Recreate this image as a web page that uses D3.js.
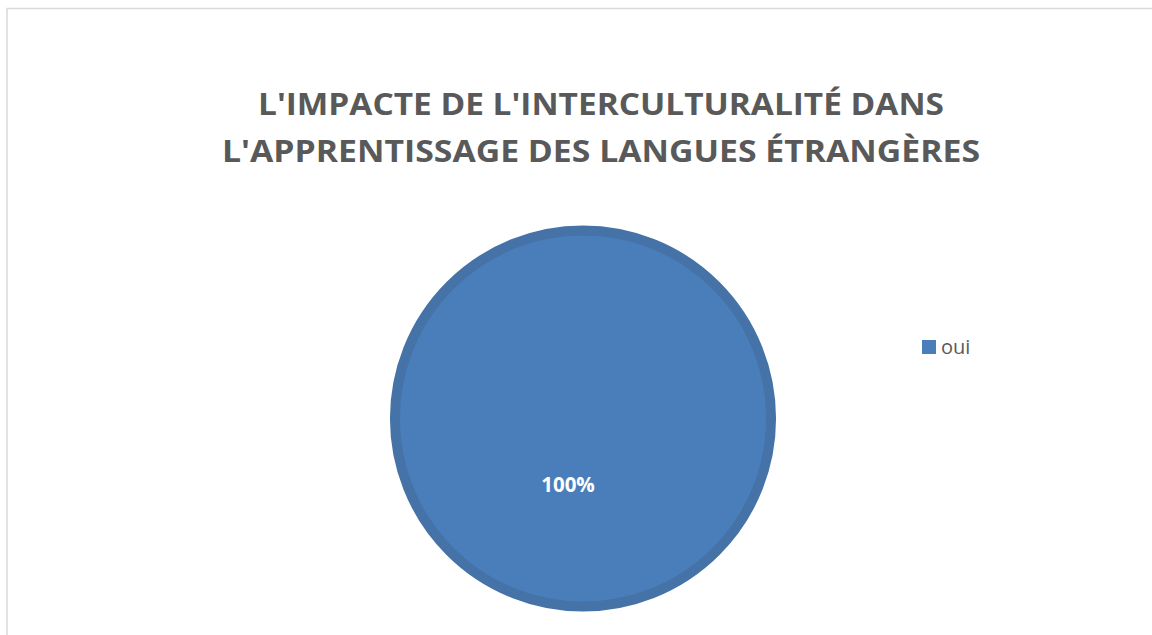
<!DOCTYPE html>
<html>
<head>
<meta charset="utf-8">
<script src="https://cdn.jsdelivr.net/npm/d3@7"></script>
<style>
  body { margin: 0; background: #fff; }
  svg { display: block; }
</style>
</head>
<body>
<div id="chart"></div>
<script>
// data
const titleLines = ["L'IMPACTE DE L'INTERCULTURALITÉ DANS", "L'APPRENTISSAGE DES LANGUES ÉTRANGÈRES"];
const categories = ['oui'];
const values = [100];
const colors = ['#4a7ebb'];

const size = { width: 1152, height: 635 };
const svg = d3.select('#chart').append('svg')
  .attr('width', size.width).attr('height', size.height);

// chart frame (runs off right/bottom edges)
svg.append('rect')
  .attr('x', 7).attr('y', 8.5)
  .attr('width', size.width + 20).attr('height', size.height + 20)
  .attr('fill', 'white').attr('stroke', '#d9d9d9').attr('stroke-width', 1.5);

// title
const titleWidths = [686, 758];
svg.append('g').selectAll('text')
  .data(titleLines)
  .enter()
  .append('text')
  .attr('x', 601)
  .attr('y', (d, i) => 115 + i * 47)
  .attr('text-anchor', 'middle')
  .attr('textLength', (d, i) => titleWidths[i])
  .attr('lengthAdjust', 'spacingAndGlyphs')
  .style('font-family', "'Open Sans', 'Liberation Sans', sans-serif")
  .style('font-weight', 'bold')
  .style('font-size', '30px')
  .attr('fill', '#595959')
  .text((d) => d);

// pie
const center = { x: 583, y: 418.5 };
const radius = 193;
const pie = d3.pie().sort(null).value((d) => d);
const arcs = pie(values);
const arc = d3.arc().innerRadius(0).outerRadius(radius - 5);
const labelArc = d3.arc().innerRadius(0).outerRadius(radius);

const g = svg.append('g').attr('transform', `translate(${center.x}, ${center.y})`);

g.selectAll('path')
  .data(arcs)
  .enter()
  .append('path')
  .attr('d', arc)
  .attr('fill', (d, i) => colors[i])
  .attr('stroke', '#4572a7')
  .attr('stroke-width', 10);

// data labels
g.selectAll('.lbl')
  .data(arcs)
  .enter()
  .append('text')
  .attr('class', 'lbl')
  .attr('x', (d) => (arcs.length === 1 ? -15 : labelArc.centroid(d)[0]))
  .attr('y', (d) => (arcs.length === 1 ? 73 : labelArc.centroid(d)[1]))
  .attr('text-anchor', 'middle')
  .style('font-family', "'Open Sans', 'Liberation Sans', sans-serif")
  .style('font-weight', 'bold')
  .style('font-size', '20.5px')
  .attr('fill', 'white')
  .text((d) => `${d3.format('.0f')(d.data / d3.sum(values) * 100)}%`);

// legend
const legend = svg.append('g').attr('transform', 'translate(922, 340)');
categories.forEach((c, i) => {
  legend.append('rect')
    .attr('x', 0).attr('y', i * 28)
    .attr('width', 14).attr('height', 14)
    .attr('fill', colors[i]);
  legend.append('text')
    .attr('x', 19).attr('y', i * 28 + 14)
    .style('font-family', "'Open Sans', 'Liberation Sans', sans-serif")
    .style('font-size', '20px')
    .attr('fill', '#595959')
    .text(c);
});
</script>
</body>
</html>
